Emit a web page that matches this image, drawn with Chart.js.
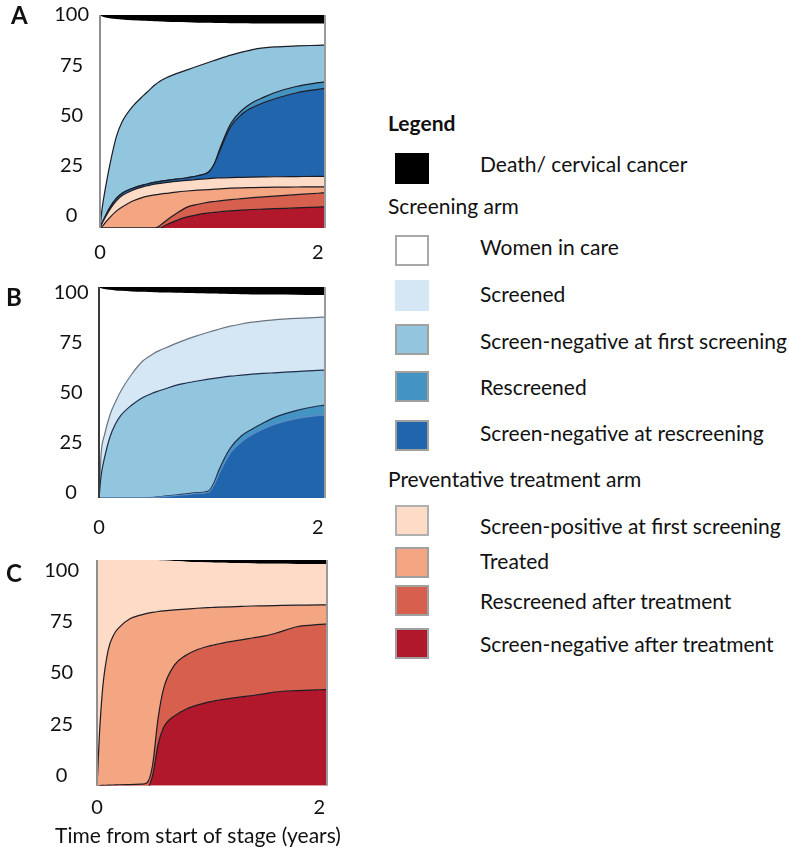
<!DOCTYPE html>
<html>
<head>
<meta charset="utf-8">
<title>Screening and treatment stages</title>
<script src="https://cdn.jsdelivr.net/npm/chart.js@4.4.1/dist/chart.umd.min.js"></script>
<style>
  html, body { margin: 0; padding: 0; background: #fff; }
  body { width: 789px; height: 847px; position: relative; overflow: hidden;
         font-family: Lato, "Open Sans", sans-serif; color: #111; }
  canvas { position: absolute; left: 0; }
  .letter { position: absolute; font-weight: 700; font-size: 24px; line-height: 28px; }
  .lg-title { position: absolute; left: 388px; font-weight: 700; font-size: 21px; line-height: 25px; }
  .lg-head { position: absolute; left: 388px; font-size: 21px; line-height: 25px; white-space: nowrap; }
  .lg-swatch { position: absolute; left: 395px; width: 34px; height: 31px; box-sizing: border-box; border: 2px solid #a3a3a3; }
  .lg-text { position: absolute; left: 480px; font-size: 21px; line-height: 25px; white-space: nowrap; }
</style>
</head>
<body>
<canvas id="chartA" width="340" height="270" style="top:0px"></canvas>
<canvas id="chartB" width="340" height="270" style="top:272px"></canvas>
<canvas id="chartC" width="356" height="320" style="top:545px"></canvas>
<div class="letter" style="left:11px; top:1px">A</div>
<div class="letter" style="left:6px; top:283px">B</div>
<div class="letter" style="left:6px; top:559px">C</div>
<div id="legend"></div>

<script>
// ----- Data (years since start of stage, % of women) -----
const T = [0, 0.02, 0.05, 0.1, 0.15, 0.2, 0.3, 0.4, 0.45, 0.5, 0.55, 0.6, 0.7, 0.8, 0.9, 1.0, 1.05, 1.1, 1.2, 1.3, 1.4, 1.5, 1.6, 1.8, 2.0, 2.07];
const X_TICKS = [0, 2];
const Y_TICKS = [0, 25, 50, 75, 100];

// Panel A: upper edge of each band
const A_death = [99.8, 99.3, 98.8, 98.3, 98.0, 97.8, 97.4, 97.1, 97.0, 96.9, 96.8, 96.7, 96.5, 96.4, 96.2, 96.1, 96.0, 96.0, 95.9, 95.9, 95.8, 95.8, 95.8, 95.8, 95.8, 95.8];
const A_snf = [-6, 4, 14, 28, 39.5, 46.5, 54.5, 60, 62.5, 65, 67, 68.5, 70.8, 72.7, 74.6, 76.5, 77.4, 78.3, 80, 81.5, 82.8, 83.6, 84.1, 84.6, 84.9, 85];
const A_rs = [-6, -3.5, 0, 5, 8.7, 11.2, 13.8, 15.5, 16.1, 16.7, 17.2, 17.6, 18.3, 19, 20, 22, 26, 33.5, 46, 52.5, 56.5, 59, 61.3, 64.4, 66.3, 66.8];
const A_snr = [-6, -3.5, 0, 5, 8.7, 11.2, 13.8, 15.5, 16.1, 16.7, 17.2, 17.6, 18.3, 19, 20, 22, 26, 32.5, 44.5, 50.5, 54, 56.3, 58.2, 61.2, 63, 63.5];
const A_spf = [-6, -3.6, -0.5, 4, 7.5, 10, 12.8, 14.6, 15.2, 15.8, 16.2, 16.6, 17.2, 17.7, 18.2, 18.6, 18.8, 18.9, 19.1, 19.2, 19.3, 19.4, 19.5, 19.6, 19.7, 19.7];
const A_trt = [-6, -5.2, -3.2, -0.2, 2.4, 4.3, 7.4, 9.4, 10, 10.5, 10.9, 11.2, 11.9, 12.4, 12.8, 13.1, 13.3, 13.5, 13.8, 14, 14.1, 14.2, 14.3, 14.4, 14.5, 14.5];
const A_rat = [-6, -6, -6, -6, -6, -6, -6, -6, -6, -6, -4.8, -2.6, 1.2, 4.4, 5.8, 6.9, 7.2, 7.5, 8.1, 8.6, 9.1, 9.5, 9.9, 10.6, 11.3, 11.6];
const A_snat = [-6, -6, -6, -6, -6, -6, -6, -6, -6, -6, -6, -4.6, -2.3, -0.5, 0.7, 1.5, 1.8, 2.1, 2.5, 2.9, 3.2, 3.4, 3.6, 4.0, 4.4, 4.6];

// Panel B
const B_death = [103, 102.4, 102, 101.6, 101.3, 101.1, 100.8, 100.6, 100.5, 100.4, 100.3, 100.2, 100.1, 100, 99.9, 99.8, 99.7, 99.6, 99.5, 99.4, 99.3, 99.2, 99.2, 99.1, 99, 99];
const B_scr = [-2.5, 20, 29, 39, 45.5, 51, 59.5, 66, 68, 69.8, 71.2, 72.4, 74.7, 76.8, 78.7, 80.4, 81.2, 82, 83.4, 84.5, 85.4, 86.1, 86.6, 87.3, 87.8, 88];
const B_snf = [-2.5, 9, 17.5, 28, 34.5, 38.8, 44, 47.8, 49, 50.2, 51.1, 52, 53.8, 55, 56, 56.9, 57.3, 57.7, 58.4, 58.9, 59.4, 59.8, 60.1, 60.7, 61.3, 61.5];
const B_rs = [-2.5, -2.5, -2.5, -2.5, -2.5, -2.5, -2.5, -2.5, -2.5, -2.2, -1.9, -1.6, -1, -0.4, 0.2, 1, 5, 12, 22.5, 28.5, 32, 35, 37.7, 41.2, 43.5, 44];
const B_snr = [-2.5, -2.5, -2.5, -2.5, -2.5, -2.5, -2.5, -2.5, -2.5, -2.3, -2.05, -1.8, -1.3, -0.8, -0.2, 0.4, 4, 10, 20, 25.5, 29.2, 32, 34.3, 37.2, 38.7, 39];

// Panel C
const C_death = [105.5, 105.5, 105.5, 105.5, 105.5, 105.4, 105.3, 105.2, 105.1, 105, 104.9, 104.7, 104.5, 104.2, 104, 103.8, 103.7, 103.6, 103.5, 103.4, 103.3, 103.2, 103.2, 103.1, 103, 103];
const C_trt = [-6, 18, 42, 61, 68.5, 72.2, 76.5, 78.3, 79, 79.5, 79.9, 80.2, 80.7, 81.1, 81.5, 81.8, 81.9, 82, 82.2, 82.4, 82.6, 82.7, 82.8, 83, 83.1, 83.2];
const C_rat = [-6, -5, -4.8, -4.7, -4.6, -4.5, -4.4, -4.2, -3.5, 5, 28, 42.5, 54, 58.6, 61.3, 63, 63.6, 64.2, 65.2, 66.1, 67, 67.9, 69.2, 72.5, 73.6, 73.8];
const C_snat = [-6, -6, -6, -6, -6, -6, -6, -6, -6, 0, 15, 23.5, 29.2, 32.3, 34.3, 35.8, 36.3, 36.8, 37.6, 38.3, 39, 39.8, 40.7, 41.4, 41.8, 41.9];

const LEGEND_LABELS = ["Death/ cervical cancer", "Women in care", "Screened", "Screen-negative at first screening",
  "Rescreened", "Screen-negative at rescreening", "Screen-positive at first screening", "Treated",
  "Rescreened after treatment", "Screen-negative after treatment"];

// ----- Colours -----
const COL = {
  death: "#000000", care: "#ffffff", screened: "#d5e7f4", snf: "#92c5de", rs: "#4393c3", snr: "#2166ac",
  spf: "#fddbc7", trt: "#f4a582", rat: "#d6604d", snat: "#b2182b",
};
const EDGE = "#1c1c24";
const TICK_SIZE = 20;

Chart.defaults.font.family = "Lato, 'Open Sans', sans-serif";
Chart.defaults.color = "#111";

// left / right frame of each panel
const frame = {
  id: "frame",
  afterDatasetsDraw(chart, args, opts) {
    const { ctx, chartArea: a } = chart;
    ctx.save();
    ctx.lineWidth = 2;
    ctx.strokeStyle = opts.left;
    ctx.beginPath(); ctx.moveTo(a.left, a.top); ctx.lineTo(a.left, a.bottom); ctx.stroke();
    ctx.strokeStyle = opts.right;
    ctx.beginPath(); ctx.moveTo(a.right, a.top); ctx.lineTo(a.right, a.bottom); ctx.stroke();
    ctx.restore();
  },
};

function band(label, values, color, fill, edge) {
  return {
    label,
    data: T.map((t, i) => ({ x: t, y: values[i] })),
    backgroundColor: color,
    borderColor: edge || "rgba(0,0,0,0)",
    borderWidth: edge ? 1.2 : 0,
    fill,
    pointRadius: 0,
    cubicInterpolationMode: "monotone",
  };
}

function panel(id, p) {
  const scales = {
    x: {
      type: "linear", min: 0, max: p.xMax,
      afterBuildTicks: (s) => { s.ticks = X_TICKS.map((v) => ({ value: v })); },
      afterFit: (s) => { s.height = p.xHeight; s.paddingLeft = 0; s.paddingRight = 0; },
      grid: { display: false, drawTicks: false },
      border: { display: false },
      ticks: { padding: p.xPad, maxRotation: 0, font: { size: TICK_SIZE }, callback: (v) => String(v) },
    },
    y: {
      min: p.yMin, max: p.yMax,
      afterBuildTicks: (s) => { s.ticks = Y_TICKS.map((v) => ({ value: v })); },
      afterFit: (s) => { s.width = p.yWidth; s.paddingTop = 0; s.paddingBottom = 0; },
      grid: { display: false, drawTicks: false },
      border: { display: false },
      ticks: { padding: p.yPad, crossAlign: "center", font: { size: TICK_SIZE }, callback: (v) => String(v) },
    },
  };
  if (p.rightGap) {
    // empty spacer on the right so the bottom title sits where the original has it
    scales.spacer = {
      type: "linear", position: "right", min: 0, max: 1,
      afterFit: (s) => { s.width = p.rightGap; s.paddingTop = 0; s.paddingBottom = 0; },
      grid: { display: false, drawTicks: false },
      border: { display: false },
      ticks: { display: false },
    };
  }
  return new Chart(document.getElementById(id), {
    type: "line",
    data: { datasets: p.datasets },
    options: {
      responsive: false,
      animation: false,
      events: [],
      layout: { padding: { top: 15, right: p.padRight, left: p.padLeft || 0, bottom: 0 } },
      plugins: {
        legend: { display: false },
        tooltip: { enabled: false },
        title: p.title ? {
          display: true, position: "bottom", text: p.title,
          font: { size: 21, weight: "normal" }, color: "#111", padding: { top: 0, bottom: 16 },
        } : { display: false },
        frame: { left: p.leftEdge, right: "#9a9a9a" },
      },
      scales,
    },
    plugins: [frame],
  });
}

panel("chartA", {
  datasets: [
    band("Screen-negative after treatment", A_snat, COL.snat, "start", EDGE),
    band("Rescreened after treatment", A_rat, COL.rat, "-1", EDGE),
    band("Treated", A_trt, COL.trt, "-1", EDGE),
    band("Screen-positive at first screening", A_spf, COL.spf, "-1", EDGE),
    band("Screen-negative at rescreening", A_snr, COL.snr, "-1", EDGE),
    band("Rescreened", A_rs, COL.rs, "-1", EDGE),
    band("Screen-negative at first screening", A_snf, COL.snf, "-1", EDGE),
    band("Death/ cervical cancer", A_death, COL.death, "end"),
  ],
  yMin: -6, yMax: 100, xMax: 2.065, yWidth: 100, yPad: 11, xHeight: 42, xPad: 13, padRight: 15,
  leftEdge: "#8f8f8f",
});

panel("chartB", {
  datasets: [
    band("Screen-negative at rescreening", B_snr, COL.snr, "start", "#5b8cc4"),
    band("Rescreened", B_rs, COL.rs, "-1", "#1f2d4a"),
    band("Screen-negative at first screening", B_snf, COL.snf, "-1", "#1f2d4a"),
    band("Screened", B_scr, COL.screened, "-1", "#6b7682"),
    band("Death/ cervical cancer", B_death, COL.death, "end"),
  ],
  yMin: -2.5, yMax: 103, xMax: 2.065, yWidth: 99, yPad: 10.5, xHeight: 44, xPad: 18, padRight: 15,
  leftEdge: "#3a3a3a",
});

panel("chartC", {
  datasets: [
    band("Screen-negative after treatment", C_snat, COL.snat, "start", EDGE),
    band("Rescreened after treatment", C_rat, COL.rat, "-1", EDGE),
    band("Treated", C_trt, COL.trt, "-1", EDGE),
    band("Screen-positive at first screening", C_death, COL.spf, "-1"),
    band("Death/ cervical cancer", C_death, COL.death, "end"),
  ],
  yMin: -5, yMax: 105, xMax: 2.07, yWidth: 57, yPad: 18, xHeight: 38, xPad: 10, padLeft: 40, padRight: 0,
  rightGap: 29,
  leftEdge: "#8f8f8f",
  title: "Time from start of stage (years)",
});

// ----- Legend (HTML) -----
(function buildLegend() {
  const box = document.getElementById("legend");
  const fills = [COL.death, COL.care, COL.screened, COL.snf, COL.rs, COL.snr, COL.spf, COL.trt, COL.rat, COL.snat];
  const edges = [COL.death, "#a8a8a8", COL.screened, "#a0a0a0", "#a0a0a0", "#a0a0a0", "#b0b0b0", "#a0a0a0", "#a0a0a0", "#a0a0a0"];
  const swatchTop = [153, 235, 280, 324, 371, 420, 505, 547, 585, 628];
  const textMid = [163, 246, 293, 340, 386, 432, 525, 560, 600, 643];

  function add(cls, text, top) {
    const d = document.createElement("div");
    d.className = cls;
    if (text) d.textContent = text;
    d.style.top = top + "px";
    box.appendChild(d);
    return d;
  }

  add("lg-title", "Legend", 110);
  add("lg-head", "Screening arm", 193);
  add("lg-head", "Preventative treatment arm", 466);
  LEGEND_LABELS.forEach((label, i) => {
    const s = add("lg-swatch", null, swatchTop[i]);
    s.style.background = fills[i];
    s.style.borderColor = edges[i];
    add("lg-text", label, textMid[i] - 12.5);
  });
})();
</script>
</body>
</html>
